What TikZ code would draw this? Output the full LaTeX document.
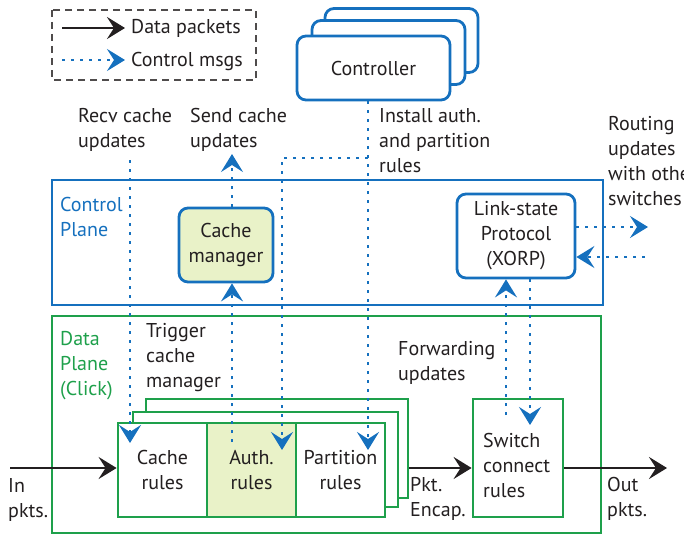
\documentclass[tikz,border=0pt]{standalone}
\usepackage{fontspec}
\setmainfont{PT Sans}
\usetikzlibrary{arrows.meta}
\definecolor{ink}{RGB}{35,31,32}
\definecolor{cblue}{RGB}{21,112,190}
\definecolor{dgreen}{RGB}{30,160,75}
\definecolor{lgreen}{RGB}{233,242,200}
\tikzset{
  lbl/.style={font=\fontsize{20}{25}\selectfont, text=ink, inner sep=0pt, align=left},
  boxtxt/.style={lbl, align=center},
  cbox/.style={draw=cblue, line width=2.8pt, rounded corners=9pt, fill=white, boxtxt},
  gbox/.style={draw=dgreen, line width=2.8pt, fill=white, boxtxt},
  datapkt/.style={draw=ink, line width=2.8pt, -{Stealth[length=18pt,width=22pt,inset=7pt]}},
  ctrlline/.style={draw=cblue, line width=2.5pt, dash pattern=on 3pt off 6pt},
  ctrlmsg/.style={ctrlline, -{Stealth[length=18pt,width=22pt,inset=7pt]}}
}
\begin{document}
\begin{tikzpicture}[x=1pt,y=-1pt]
  \useasboundingbox (0,0) rectangle (684,535);
  \clip (0,0) rectangle (684,535);

  \draw[ink!80, line width=1.2pt, dash pattern=on 7pt off 5pt] (52,10) rectangle (256,80);
  \coordinate (lgA) at (62,28);
  \coordinate (lgB) at (125,28);
  \coordinate (lgC) at (62,60);
  \coordinate (lgD) at (125,60);
  \draw[datapkt] (lgA) -- (lgB);
  \draw[ctrlmsg] (lgC) -- (lgD);
  \node[lbl, anchor=west] (lgdata) at (131,28) {Data packets};
  \node[lbl, anchor=west] (lgctrl) at (131,61) {Control msgs};

  \node[cbox, minimum width=153pt, minimum height=64pt] (ctrlc) at (401.5,40.5) {};
  \node[cbox, minimum width=153pt, minimum height=64pt] (ctrlb) at (388.5,52.5) {};
  \node[cbox, minimum width=153pt, minimum height=64pt] (ctrl) at (373.5,68) {Controller};

  \node[draw=cblue, line width=2.8pt, minimum width=551pt, minimum height=125pt] (cplane) at (327.5,242.5) {};
  \node[draw=dgreen, line width=2.8pt, minimum width=549pt, minimum height=217pt] (dplane) at (326.5,424.5) {};

  \node[lbl, text=cblue, anchor=north west] (cplbl) at (60,197) {Control\\Plane};
  \node[lbl, text=dgreen, anchor=north west] (dplbl) at (60,331) {Data\\Plane\\(Click)};

  \node[cbox, fill=lgreen, minimum width=94pt, minimum height=74pt] (cachemgr) at (226,245) {Cache\\manager};
  \node[cbox, minimum width=118pt, minimum height=84pt] (linkstate) at (516,236) {Link-state\\Protocol\\(XORP)};

  \node[gbox, minimum width=262pt, minimum height=99pt] (layerc) at (277,448.5) {};
  \node[gbox, minimum width=265pt, minimum height=95pt] (layerb) at (265.5,459.5) {};
  \node[gbox, minimum width=89pt, minimum height=94pt] (cacher) at (162.5,470) {Cache\\rules};
  \node[gbox, fill=lgreen, minimum width=89pt, minimum height=94pt] (authr) at (251.5,470) {Auth.\\rules};
  \node[gbox, minimum width=89pt, minimum height=94pt] (partr) at (340.5,470) {Partition\\rules};
  \node[gbox, minimum width=90pt, minimum height=118pt] (switchr) at (518,458) {};
  \node[lbl, anchor=north west] (switchtxt) at (483,433) {Switch\\connect\\rules};

  \node[lbl, anchor=north west] (recvtxt) at (78,108) {Recv cache\\updates};
  \node[lbl, anchor=north west] (sendtxt) at (190,108) {Send cache\\updates};
  \node[lbl, anchor=north west] (insttxt) at (379,108) {Install auth.\\and partition\\rules};
  \node[lbl, anchor=north west] (routetxt) at (608,116) {Routing\\updates\\with other\\switches};
  \node[lbl, anchor=north west] (trigtxt) at (146,323) {Trigger\\cache\\manager};
  \node[lbl, anchor=north west] (fwdtxt) at (398,341) {Forwarding\\updates};
  \node[lbl, anchor=north west] (intxt) at (8,478) {In\\pkts.};
  \node[lbl, anchor=north west] (encaptxt) at (410,477) {Pkt.\\Encap.};
  \node[lbl, anchor=north west] (outtxt) at (607,477) {Out\\pkts.};

  \coordinate (inS) at (10,468);
  \coordinate (outE) at (667,468);
  \draw[datapkt] (inS) -- (inS -| cacher.west);
  \draw[datapkt] (layerc.east |- inS) -- (switchr.west |- inS);
  \draw[datapkt] (switchr.east |- inS) -- (outE);

  \coordinate (recvS) at (130,160);
  \coordinate (recvE) at (130,443);
  \draw[ctrlmsg] (recvS) -- (recvE);
  \coordinate (sendE) at (232,154);
  \draw[ctrlmsg] (cachemgr.north -| sendE) -- (sendE);
  \coordinate (trigS) at (232,442);
  \draw[ctrlmsg] (trigS) -- (trigS |- cachemgr.south);
  \coordinate (instJ) at (368,158);
  \coordinate (instK) at (282,158);
  \coordinate (partE) at (368,450);
  \coordinate (authE) at (282,450);
  \draw[ctrlmsg] (ctrl.south -| instJ) -- (partE);
  \draw[ctrlmsg] (instJ) -- (instK) -- (authE);
  \coordinate (fwdS) at (506,415);
  \coordinate (fwdE) at (530,425);
  \draw[ctrlmsg] (fwdS) -- (fwdS |- linkstate.south);
  \draw[ctrlmsg] (linkstate.south -| fwdE) -- (fwdE);
  \coordinate (routeA) at (648,227);
  \coordinate (routeB) at (645,257);
  \draw[ctrlmsg] (linkstate.east |- routeA) -- (routeA);
  \draw[ctrlmsg] (routeB) -- (linkstate.east |- routeB);
\end{tikzpicture}
\end{document}
